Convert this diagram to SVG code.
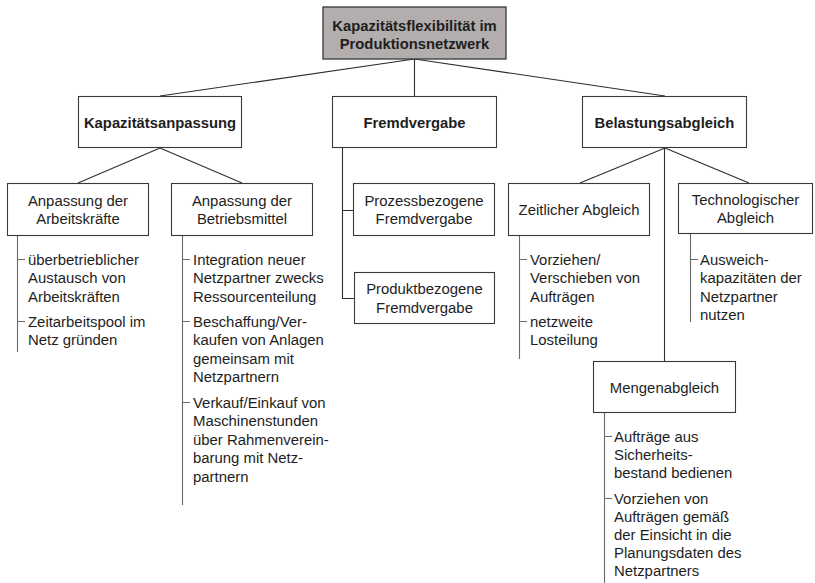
<svg xmlns="http://www.w3.org/2000/svg" width="815" height="583" viewBox="0 0 815 583">
  <style>
    .box { fill: #ffffff; stroke: #3a3a3a; stroke-width: 1.1; }
    .root { fill: #b3adad; stroke: #3a3a3a; stroke-width: 1.3; }
    .t { font-family: "Liberation Sans", Arial, sans-serif; font-size: 14.9px; fill: #1e1e1e; }
    .c { text-anchor: middle; }
    .b { font-weight: bold; font-size: 14.8px; }
    .edge { fill: none; stroke: #2e2e2e; stroke-width: 1.1; }
    .list { fill: none; stroke: #6a6a6a; stroke-width: 1.1; }
  </style>
  <rect width="815" height="583" fill="#ffffff"/>

  <!-- connectors -->
  <g id="connectors">
    <path class="edge" d="M414.5 59 L160 96 M414.5 59 L414.5 96 M414.5 59 L665 96"/>
    <path class="edge" d="M160 148 L78 183 M160 148 L242 183"/>
    <path class="edge" d="M342.5 148 L342.5 298.5 L354 298.5 M342.5 210.5 L353 210.5"/>
    <path class="edge" d="M665 148 L580 183 M665 148 L749 183 M664.5 148 L664.5 361"/>
    <!-- list brackets -->
    <path class="list" d="M17.5 236 L17.5 352 M17.5 259.5 H25 M17.5 321.5 H25"/>
    <path class="list" d="M182.5 236 L182.5 505 M182.5 259.5 H190 M182.5 321.5 H190 M182.5 402.5 H190"/>
    <path class="list" d="M519.5 236 L519.5 359 M519.5 259.5 H527 M519.5 321.5 H527"/>
    <path class="list" d="M690.5 234 L690.5 322 M690.5 259.5 H698"/>
    <path class="list" d="M604.5 413 L604.5 583 M604.5 436.5 H612 M604.5 498.5 H612"/>
  </g>

  <!-- root -->
  <g id="kapazitaetsflexibilitaet">
    <rect class="root" x="323" y="7" width="183" height="52"/>
    <text class="t b c" x="414.5" y="30.5">Kapazitätsflexibilität im</text>
    <text class="t b c" x="414.5" y="48.5">Produktionsnetzwerk</text>
  </g>

  <!-- second level -->
  <g id="kapazitaetsanpassung">
    <rect class="box" x="78.5" y="96.5" width="163" height="51"/>
    <text class="t b c" x="160" y="127.5">Kapazitätsanpassung</text>
  </g>
  <g id="fremdvergabe">
    <rect class="box" x="332.5" y="96.5" width="164" height="51"/>
    <text class="t b c" x="414.5" y="127.5">Fremdvergabe</text>
  </g>
  <g id="belastungsabgleich">
    <rect class="box" x="582.5" y="96.5" width="164" height="51"/>
    <text class="t b c" x="664.5" y="127.5">Belastungsabgleich</text>
  </g>

  <!-- third level -->
  <g id="arbeitskraefte">
    <rect class="box" x="7.5" y="183.5" width="141" height="52"/>
    <text class="t c" x="78" y="205.5">Anpassung der</text>
    <text class="t c" x="78" y="224">Arbeitskräfte</text>
  </g>
  <g id="betriebsmittel">
    <rect class="box" x="171.5" y="183.5" width="141" height="52"/>
    <text class="t c" x="242" y="205.5">Anpassung der</text>
    <text class="t c" x="242" y="224">Betriebsmittel</text>
  </g>
  <g id="prozessbezogen">
    <rect class="box" x="353.5" y="183.5" width="141" height="52"/>
    <text class="t c" x="424" y="205.5">Prozessbezogene</text>
    <text class="t c" x="424" y="224">Fremdvergabe</text>
  </g>
  <g id="produktbezogen">
    <rect class="box" x="354.5" y="272.5" width="140" height="51"/>
    <text class="t c" x="424.5" y="294">Produktbezogene</text>
    <text class="t c" x="424.5" y="312.5">Fremdvergabe</text>
  </g>
  <g id="zeitlich">
    <rect class="box" x="508.5" y="183.5" width="141" height="52"/>
    <text class="t c" x="579" y="214.5">Zeitlicher Abgleich</text>
  </g>
  <g id="technologisch">
    <rect class="box" x="678.5" y="183.5" width="134" height="50"/>
    <text class="t c" x="745.5" y="204.5">Technologischer</text>
    <text class="t c" x="745.5" y="223">Abgleich</text>
  </g>
  <g id="mengenabgleich">
    <rect class="box" x="593.5" y="361.5" width="142" height="51"/>
    <text class="t c" x="664.5" y="392.5">Mengenabgleich</text>
  </g>

  <!-- measure lists -->
  <g id="liste-arbeitskraefte">
    <text class="t" x="28" y="264.5">überbetrieblicher<tspan x="28" dy="18.5">Austausch von</tspan><tspan x="28" dy="18.5">Arbeitskräften</tspan></text>
    <text class="t" x="28" y="326.5">Zeitarbeitspool im<tspan x="28" dy="18.5">Netz gründen</tspan></text>
  </g>
  <g id="liste-betriebsmittel">
    <text class="t" x="193" y="264.5">Integration neuer<tspan x="193" dy="18.5">Netzpartner zwecks</tspan><tspan x="193" dy="18.5">Ressourcenteilung</tspan></text>
    <text class="t" x="193" y="326.5">Beschaffung/Ver-<tspan x="193" dy="18.5">kaufen von Anlagen</tspan><tspan x="193" dy="18.5">gemeinsam mit</tspan><tspan x="193" dy="18.5">Netzpartnern</tspan></text>
    <text class="t" x="193" y="407.5">Verkauf/Einkauf von<tspan x="193" dy="18.5">Maschinenstunden</tspan><tspan x="193" dy="18.5">über Rahmenverein-</tspan><tspan x="193" dy="18.5">barung mit Netz-</tspan><tspan x="193" dy="18.5">partnern</tspan></text>
  </g>
  <g id="liste-zeitlich">
    <text class="t" x="530" y="264.5">Vorziehen/<tspan x="530" dy="18.5">Verschieben von</tspan><tspan x="530" dy="18.5">Aufträgen</tspan></text>
    <text class="t" x="530" y="326.5">netzweite<tspan x="530" dy="18.5">Losteilung</tspan></text>
  </g>
  <g id="liste-technologisch">
    <text class="t" x="700" y="264.5">Ausweich-<tspan x="700" dy="18.5">kapazitäten der</tspan><tspan x="700" dy="18.5">Netzpartner</tspan><tspan x="700" dy="18.5">nutzen</tspan></text>
  </g>
  <g id="liste-mengen">
    <text class="t" x="614" y="441.5">Aufträge aus<tspan x="614" dy="18">Sicherheits-</tspan><tspan x="614" dy="18">bestand bedienen</tspan></text>
    <text class="t" x="614" y="503.5">Vorziehen von<tspan x="614" dy="18">Aufträgen gemäß</tspan><tspan x="614" dy="18">der Einsicht in die</tspan><tspan x="614" dy="18">Planungsdaten des</tspan><tspan x="614" dy="18">Netzpartners</tspan></text>
  </g>
</svg>
